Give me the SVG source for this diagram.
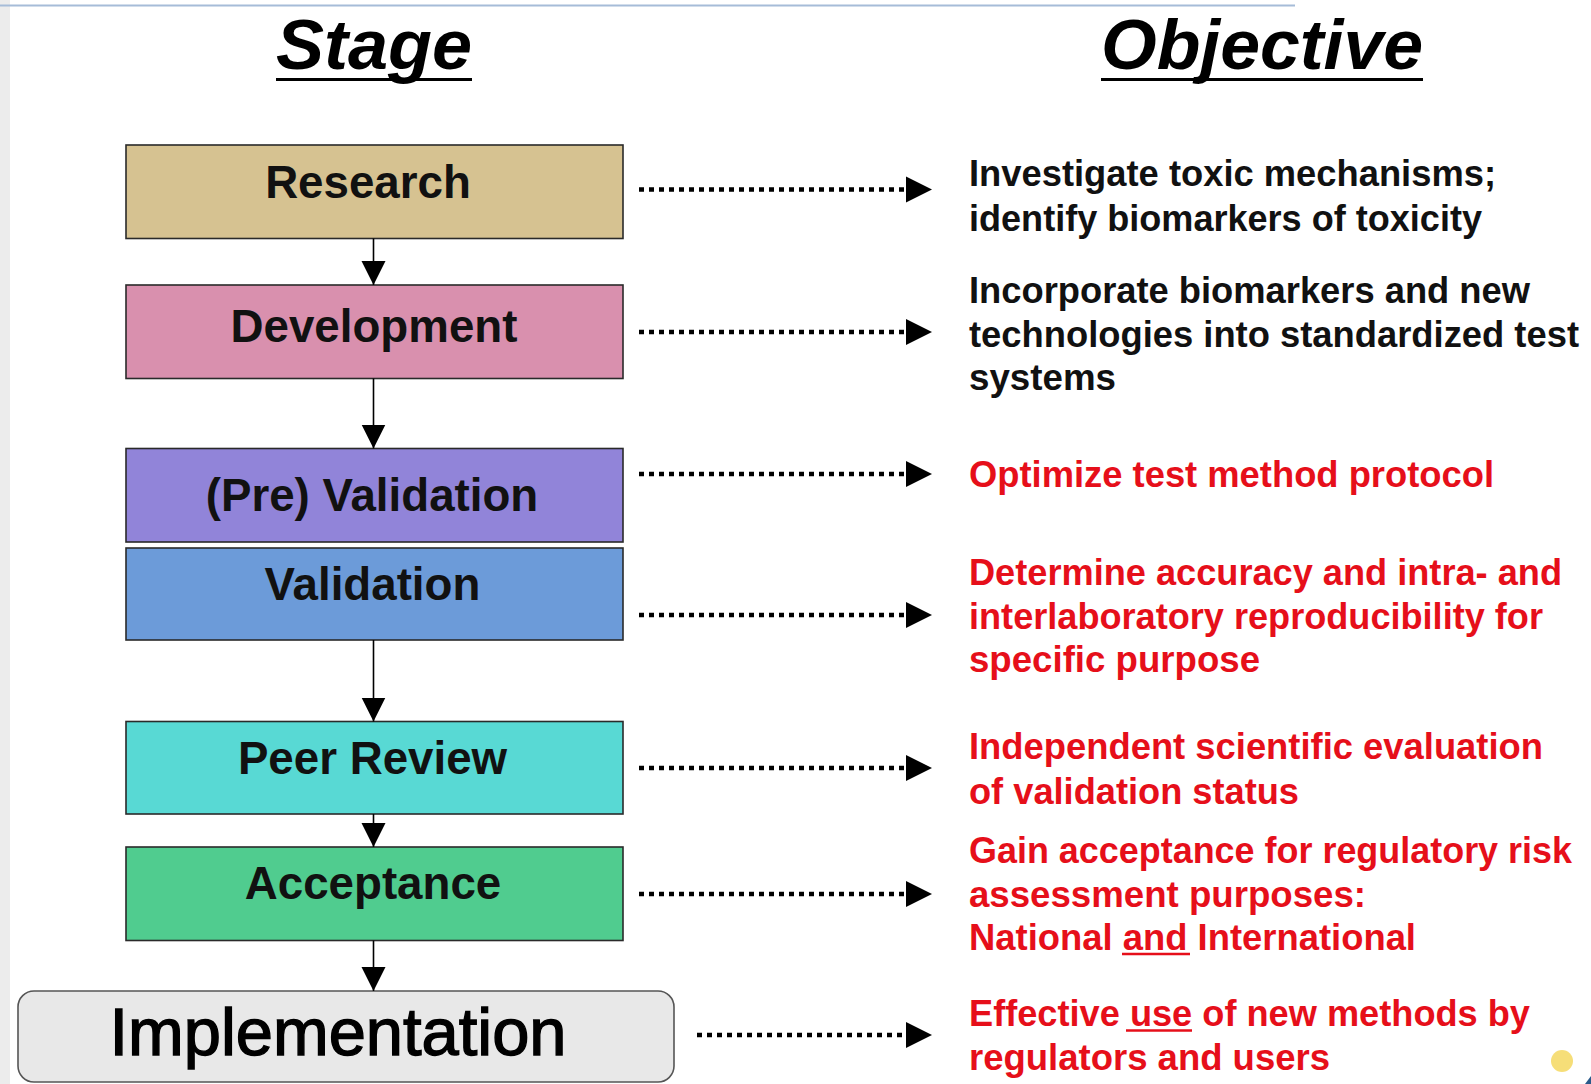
<svg xmlns="http://www.w3.org/2000/svg" width="1591" height="1084" viewBox="0 0 1591 1084">
  <defs>
    <style>
      .hdr { font-family: "Liberation Sans", Arial, sans-serif; font-weight: bold; font-style: italic; font-size: 71px; fill: #000; }
      .box { stroke: #2a2a2a; stroke-width: 1.6; }
      .lbl { font-family: "Liberation Sans", Arial, sans-serif; font-weight: bold; font-size: 45.7px; fill: #111; text-anchor: middle; }
      .impl { font-family: "Liberation Sans", Arial, sans-serif; font-weight: normal; font-size: 67px; fill: #000; stroke: #000; stroke-width: 1.4; text-anchor: middle; }
      .obj { font-family: "Liberation Sans", Arial, sans-serif; font-weight: bold; font-size: 37px; }
      .blk { fill: #111; }
      .red { fill: #e60f1a; }
      .dot { stroke: #000; stroke-width: 4.5; stroke-dasharray: 5 5; fill: none; }
      .vline { stroke: #000; stroke-width: 1.6; fill: none; }
    </style>
    <marker id="vd" markerUnits="userSpaceOnUse" markerWidth="26" markerHeight="26" refX="24" refY="12" orient="auto">
      <path d="M0,0 L24,12 L0,24 Z" fill="#000"/>
    </marker>
  </defs>

  <rect x="0" y="0" width="1591" height="1084" fill="#ffffff"/>
  <rect x="0" y="0" width="10" height="1084" fill="#ececec"/>
  <line x1="0" y1="5.5" x2="1295" y2="5.5" stroke="#a6bcd8" stroke-width="2"/>

  <g id="headers">
    <text class="hdr" x="276" y="69" textLength="196" lengthAdjust="spacingAndGlyphs">Stage</text>
    <line x1="276" y1="79.5" x2="472" y2="79.5" stroke="#000" stroke-width="3"/>
    <text class="hdr" x="1101" y="69" textLength="322" lengthAdjust="spacingAndGlyphs">Objective</text>
    <line x1="1101" y1="79.5" x2="1423" y2="79.5" stroke="#000" stroke-width="3"/>
  </g>

  <g id="node-research">
    <rect class="box" x="126" y="145" width="497" height="93.5" fill="#d6c291"/>
    <text class="lbl" x="368" y="198">Research</text>
  </g>
  <g id="node-development">
    <rect class="box" x="126" y="285" width="497" height="93.5" fill="#d990ae"/>
    <text class="lbl" x="374" y="342">Development</text>
  </g>
  <g id="node-prevalidation">
    <rect class="box" x="126" y="448.5" width="497" height="93.5" fill="#9184d9"/>
    <text class="lbl" x="372" y="511">(Pre) Validation</text>
  </g>
  <g id="node-validation">
    <rect class="box" x="126" y="548" width="497" height="92" fill="#6c9bd9"/>
    <text class="lbl" x="372.5" y="600">Validation</text>
  </g>
  <g id="node-peerreview">
    <rect class="box" x="126" y="721.5" width="497" height="92.5" fill="#58d9d4"/>
    <text class="lbl" x="372.5" y="774">Peer Review</text>
  </g>
  <g id="node-acceptance">
    <rect class="box" x="126" y="847" width="497" height="93.5" fill="#50cc8f"/>
    <text class="lbl" x="373" y="899">Acceptance</text>
  </g>
  <g id="node-implementation">
    <rect x="18" y="991" width="656" height="91" rx="16" ry="16" fill="#e8e8e8" stroke="#555" stroke-width="1.6"/>
    <text class="impl" x="338" y="1055" textLength="457" lengthAdjust="spacingAndGlyphs">Implementation</text>
  </g>

  <g id="connectors">
    <line class="vline" x1="373.5" y1="238.5" x2="373.5" y2="285" marker-end="url(#vd)"/>
    <line class="vline" x1="373.5" y1="378.5" x2="373.5" y2="448.5" marker-end="url(#vd)"/>
    <line class="vline" x1="373.5" y1="640" x2="373.5" y2="721.5" marker-end="url(#vd)"/>
    <line class="vline" x1="373.5" y1="814" x2="373.5" y2="847" marker-end="url(#vd)"/>
    <line class="vline" x1="373.5" y1="940.5" x2="373.5" y2="991" marker-end="url(#vd)"/>

    <line class="dot" x1="639" y1="189.5" x2="906" y2="189.5"/>
    <path d="M906,176.5 L932,189.5 L906,202.5 Z" fill="#000"/>
    <line class="dot" x1="639" y1="332" x2="906" y2="332"/>
    <path d="M906,319 L932,332 L906,345 Z" fill="#000"/>
    <line class="dot" x1="639" y1="474" x2="906" y2="474"/>
    <path d="M906,461 L932,474 L906,487 Z" fill="#000"/>
    <line class="dot" x1="639" y1="615" x2="906" y2="615"/>
    <path d="M906,602 L932,615 L906,628 Z" fill="#000"/>
    <line class="dot" x1="639" y1="768" x2="906" y2="768"/>
    <path d="M906,755 L932,768 L906,781 Z" fill="#000"/>
    <line class="dot" x1="639" y1="894" x2="906" y2="894"/>
    <path d="M906,881 L932,894 L906,907 Z" fill="#000"/>
    <line class="dot" x1="697" y1="1035" x2="906" y2="1035"/>
    <path d="M906,1022 L932,1035 L906,1048 Z" fill="#000"/>
  </g>

  <g id="objectives">
    <text class="obj blk" x="969" y="186" textLength="527" lengthAdjust="spacingAndGlyphs">Investigate toxic mechanisms;</text>
    <text class="obj blk" x="969" y="230.5" textLength="513" lengthAdjust="spacingAndGlyphs">identify biomarkers of toxicity</text>
    <text class="obj blk" x="969" y="302.5" textLength="561" lengthAdjust="spacingAndGlyphs">Incorporate biomarkers and new</text>
    <text class="obj blk" x="969" y="346.5" textLength="610" lengthAdjust="spacingAndGlyphs">technologies into standardized test</text>
    <text class="obj blk" x="969" y="390" textLength="147" lengthAdjust="spacingAndGlyphs">systems</text>

    <text class="obj red" x="969" y="487" textLength="525" lengthAdjust="spacingAndGlyphs">Optimize test method protocol</text>

    <text class="obj red" x="969" y="584.5" textLength="593" lengthAdjust="spacingAndGlyphs">Determine accuracy and intra- and</text>
    <text class="obj red" x="969" y="628.5" textLength="574" lengthAdjust="spacingAndGlyphs">interlaboratory reproducibility for</text>
    <text class="obj red" x="969" y="672" textLength="291" lengthAdjust="spacingAndGlyphs">specific purpose</text>

    <text class="obj red" x="969" y="759" textLength="574" lengthAdjust="spacingAndGlyphs">Independent scientific evaluation</text>
    <text class="obj red" x="969" y="803.5" textLength="330" lengthAdjust="spacingAndGlyphs">of validation status</text>

    <text class="obj red" x="969" y="862.5" textLength="603" lengthAdjust="spacingAndGlyphs">Gain acceptance for regulatory risk</text>
    <text class="obj red" x="969" y="907" textLength="397" lengthAdjust="spacingAndGlyphs">assessment purposes:</text>
    <text class="obj red" x="969" y="950" textLength="447" lengthAdjust="spacingAndGlyphs">National and International</text>
    <line x1="1122" y1="954" x2="1190" y2="954" stroke="#e60f1a" stroke-width="2.5"/>

    <text class="obj red" x="969" y="1026" textLength="561" lengthAdjust="spacingAndGlyphs">Effective use of new methods by</text>
    <line x1="1126" y1="1030.5" x2="1192" y2="1030.5" stroke="#e60f1a" stroke-width="2.5"/>
    <text class="obj red" x="969" y="1070" textLength="361" lengthAdjust="spacingAndGlyphs">regulators and users</text>
  </g>

  <g id="corner-mark">
    <circle cx="1562" cy="1061" r="11" fill="#f5d860" opacity="0.85"/>
    <path d="M1585,1084 L1591,1076 L1591,1084 Z" fill="#2a5a8a"/>
  </g>
</svg>
